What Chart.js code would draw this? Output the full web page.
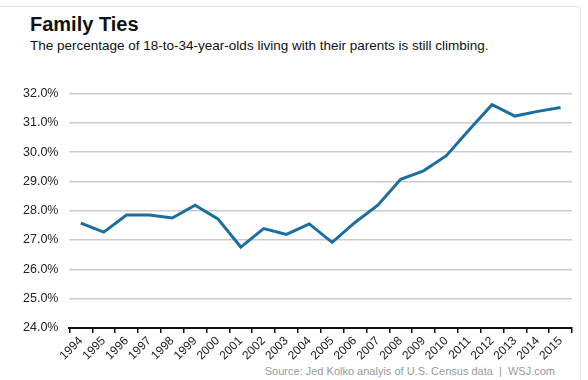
<!DOCTYPE html>
<html>
<head>
<meta charset="utf-8">
<script src="https://cdn.jsdelivr.net/npm/chart.js@4.4.0/dist/chart.umd.min.js"></script>
<style>
  html, body { margin: 0; padding: 0; background: #fff; }
  body { width: 588px; height: 380px; position: relative; overflow: hidden; font-family: "Liberation Sans", Arial, sans-serif; }
  #frame { position: absolute; left: -1px; top: 6px; width: 582px; height: 400px; border: 1px solid #e6e6e6; border-radius: 0 4px 0 0; box-sizing: border-box; }
  #title { position: absolute; left: 30px; top: 13px; font-size: 20px; font-weight: bold; color: #111; }
  #sub { position: absolute; left: 30px; top: 38px; font-size: 13.5px; color: #111; }
  #src { position: absolute; right: 33px; top: 365px; font-size: 11px; color: #999; white-space: pre; }
  #wrap { position: absolute; left: 0; top: 75px; width: 588px; height: 289px; }
</style>
</head>
<body>
<div id="frame"></div>
<div id="title">Family Ties</div>
<div id="sub">The percentage of 18-to-34-year-olds living with their parents is still climbing.</div>
<div id="wrap"><canvas id="c"></canvas></div>
<div id="src">Source: Jed Kolko analyis of U.S. Census data  |  WSJ.com</div>
<script>
const years = ["1994","1995","1996","1997","1998","1999","2000","2001","2002","2003","2004","2005","2006","2007","2008","2009","2010","2011","2012","2013","2014","2015"];
const sharePct = [27.58,27.27,27.85,27.85,27.75,28.19,27.72,26.76,27.39,27.19,27.55,26.92,27.6,28.19,29.07,29.36,29.88,30.76,31.62,31.23,31.39,31.52];
const yMin = 24, yMax = 32, yStep = 1;

new Chart(document.getElementById('c'), {
  type: 'line',
  data: {
    labels: years,
    datasets: [{
      data: sharePct,
      borderColor: '#1b6e9f',
      borderWidth: 3,
      pointRadius: 0,
      tension: 0,
      fill: false
    }]
  },
  options: {
    responsive: true,
    maintainAspectRatio: false,
    animation: false,
    layout: { padding: { left: 12, right: 16, top: 2, bottom: 0 } },
    plugins: { legend: { display: false }, tooltip: { enabled: false } },
    scales: {
      x: {
        offset: true,
        grid: { offset: true, drawOnChartArea: false, drawTicks: true, tickLength: 5, color: '#111', lineWidth: 1.5 },
        border: { display: true, color: '#111', width: 2 },
        ticks: { maxRotation: 45, minRotation: 45, autoSkip: false, color: '#222', font: { family: 'Liberation Sans', size: 12 }, padding: 1 }
      },
      y: {
        min: yMin, max: yMax,
        grid: { color: '#cccccc', lineWidth: 1.5, drawTicks: false },
        border: { display: false },
        ticks: { stepSize: yStep, color: '#222', padding: 11, font: { family: 'Liberation Sans', size: 12.5 }, callback: v => v.toFixed(1) + '%' }
      }
    }
  }
});
</script>
</body>
</html>
